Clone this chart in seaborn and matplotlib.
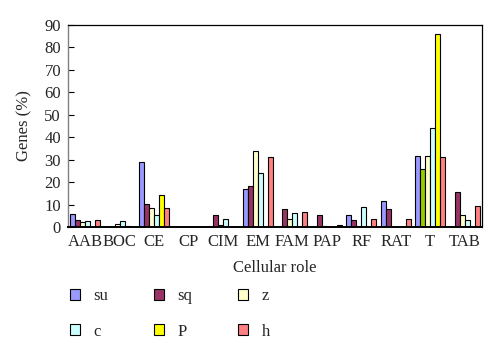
import matplotlib
matplotlib.use("Agg")
import matplotlib.pyplot as plt
import seaborn as sns
import pandas as pd
import numpy as np

categories = ["AAB", "BOC", "CE", "CP", "CIM", "EM", "FAM", "PAP", "RF", "RAT", "T", "TAB"]
series_names = ["su", "sq", "z", "c", "P", "h"]
su = [5.8, 0, 28.8, 0, 0, 16.9, 0, 0, 5.6, 11.6, 31.6, 0]
sq = [3.1, 0, 10.2, 0, 5.3, 18.1, 7.9, 5.2, 3.0, 7.9, 25.7, 15.6]
z = [2.1, 1.5, 8.3, 0, 0.8, 33.7, 3.5, 0.5, 0.7, 0, 31.6, 5.6]
c = [2.8, 2.8, 5.2, 0, 3.5, 23.9, 6.2, 0, 8.8, 0, 44.0, 3.1]
P = [0, 0.5, 14.5, 0, 0, 0, 0, 0, 0, 0, 85.9, 0]
h = [3.1, 0, 8.3, 0, 0, 31.3, 6.8, 1.0, 3.7, 3.7, 31.0, 9.5]
yticks = [0, 10, 20, 30, 40, 50, 60, 70, 80, 90]

colors = ["#9999ff", "#993366", "#ffffcc", "#ccffff", "#ffff00", "#ff8080"]
odd_color = "#99cc00"  # T / sq bar drawn in green in the reference

values = {"su": su, "sq": sq, "z": z, "c": c, "P": P, "h": h}
rows = []
for s in series_names:
    for cat, v in zip(categories, values[s]):
        rows.append({"role": cat, "series": s, "genes": v})
df = pd.DataFrame(rows)

sns.set_style("white")
plt.rcParams["font.family"] = ["Liberation Serif", "DejaVu Serif"]
FS = 12
plt.rcParams["font.size"] = FS

fig = plt.figure(figsize=(5.0, 3.56), dpi=100)
ax = fig.add_axes([0.136, 0.362, 0.828, 0.568])

sns.barplot(data=df, x="role", y="genes", hue="series", order=categories,
            hue_order=series_names, palette=colors, width=0.87,
            edgecolor="black", linewidth=0.8, ax=ax, saturation=1)

# recolor T / sq bar
sq_container = ax.containers[1]
sq_container.patches[categories.index("T")].set_facecolor(odd_color)

handles, labels = ax.get_legend_handles_labels()
if ax.get_legend() is not None:
    ax.get_legend().remove()

ax.set_xlim(-0.5, len(categories) - 0.5)
ax.set_ylim(0, 90)
ax.set_yticks(yticks)
ax.set_yticklabels([str(t) for t in yticks], fontsize=FS)
ax.set_xticks(range(len(categories)))
ax.set_xticklabels(categories, fontsize=FS)
ax.tick_params(axis="x", which="major", length=0, pad=5)
ax.set_xticks(np.arange(0.5, len(categories) - 0.5, 1), minor=True)
ax.tick_params(axis="x", which="minor", direction="in", length=4, width=0.8, color="black")
ax.tick_params(axis="y", direction="in", length=4, width=0.8, color="black", left=True, pad=5)

ax.set_xlabel("Cellular role", fontsize=FS, labelpad=7)
ax.set_ylabel("Genes (%)", fontsize=FS, labelpad=9)

for side in ["top", "right", "bottom"]:
    ax.spines[side].set_visible(True)
    ax.spines[side].set_color("black")
ax.spines["left"].set_color("#808080")
ax.spines["top"].set_linewidth(0.9)
ax.spines["right"].set_linewidth(0.9)
ax.spines["left"].set_linewidth(1.0)
ax.spines["bottom"].set_linewidth(1.4)

order = [0, 3, 1, 4, 2, 5]
leg = fig.legend([handles[i] for i in order], [labels[i] for i in order],
                 ncol=3, loc="upper left", bbox_to_anchor=(0.14, 0.19),
                 frameon=False, fontsize=FS, handlelength=0.6, handleheight=0.6,
                 handletextpad=0.8, columnspacing=2.75, labelspacing=1.15,
                 borderaxespad=0, borderpad=0)

fig.savefig("out.png", dpi=100)
